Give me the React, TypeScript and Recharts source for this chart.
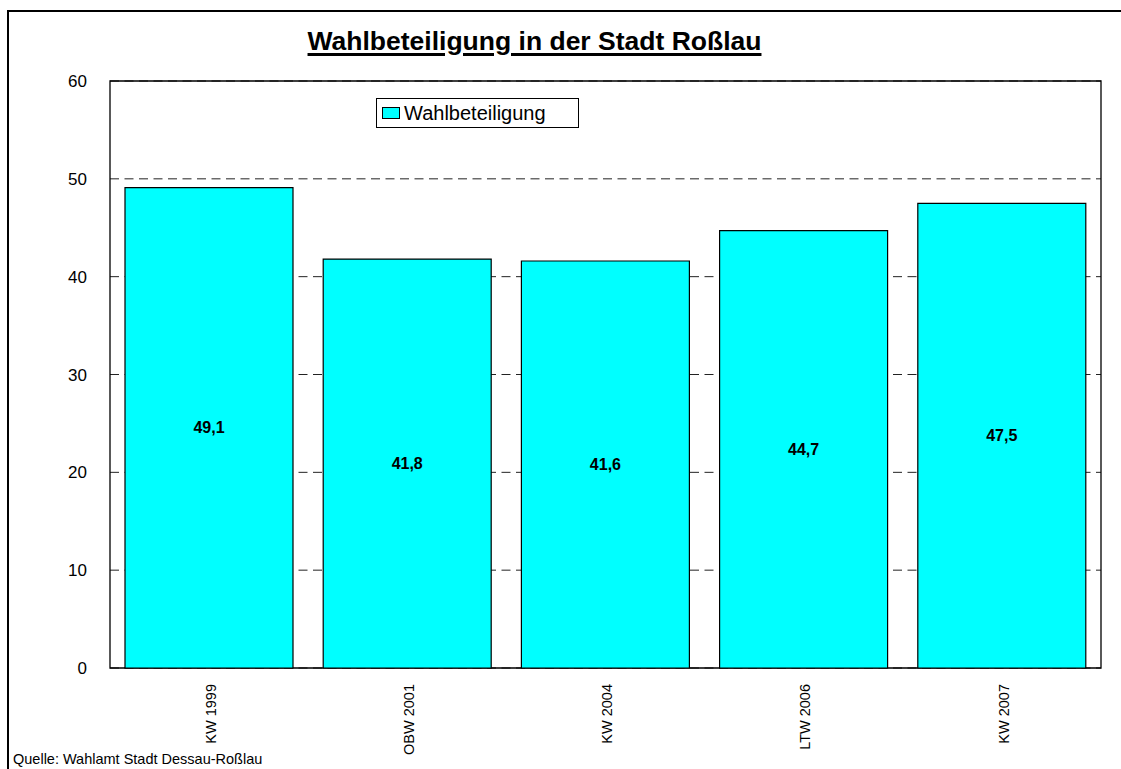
import React from "react";
import {
  BarChart,
  Bar,
  XAxis,
  YAxis,
  CartesianGrid,
  LabelList,
  Legend,
  ReferenceArea,
} from "recharts";

const categories = ["KW 1999", "OBW 2001", "KW 2004", "LTW 2006", "KW 2007"];
const turnout = [49.1, 41.8, 41.6, 44.7, 47.5];
const yTicks = [0, 10, 20, 30, 40, 50, 60];
const seriesName = "Wahlbeteiligung";
const titleText = "Wahlbeteiligung in der Stadt Roßlau";
const sourceText = "Quelle: Wahlamt Stadt Dessau-Roßlau";

const data = categories.map((c, i) => ({ name: c, value: turnout[i] }));

const FONT = "'Liberation Sans', Arial, Helvetica, sans-serif";
const CYAN = "#00FFFF";

const XTick = (props: any) => {
  const { x, y, payload } = props;
  const tx = x + 1.5;
  const ty = y + 16;
  return (
    <text
      x={tx}
      y={ty}
      dy="0.36em"
      transform={`rotate(-90, ${tx}, ${ty})`}
      textAnchor="end"
      fontFamily={FONT}
      fontSize={14.5}
      fill="#000"
    >
      {payload.value}
    </text>
  );
};

const LegendBox = () => (
  <div
    style={{
      position: "relative",
      width: 203,
      height: 30,
      boxSizing: "border-box",
      border: "1.3px solid #000",
      background: "#fff",
      fontFamily: FONT,
    }}
  >
    <div
      style={{
        position: "absolute",
        left: 5,
        top: 8,
        width: 18,
        height: 12,
        boxSizing: "border-box",
        border: "1px solid #000",
        background: CYAN,
      }}
    />
    <div
      style={{
        position: "absolute",
        left: 27,
        top: 4,
        fontSize: 20,
        lineHeight: "20px",
        color: "#000",
        whiteSpace: "nowrap",
      }}
    >
      {seriesName}
    </div>
  </div>
);

export default function App() {
  return (
    <div
      style={{
        position: "fixed",
        left: 0,
        top: 0,
        right: 0,
        bottom: 0,
        overflow: "hidden",
        background: "#fff",
      }}
    >
      <div
        style={{
          position: "absolute",
          left: 7,
          top: 10,
          right: -40,
          bottom: -40,
          border: "2.5px solid #000",
          boxSizing: "border-box",
        }}
      />
      <div
        style={{
          position: "absolute",
          left: 0,
          top: 0,
        }}
      >
        <BarChart
          width={1121}
          height={769}
          data={data}
          margin={{ top: 81, right: 20, bottom: 0, left: 0 }}
          barCategoryGap={15}
        >
          <CartesianGrid
            horizontal={true}
            vertical={false}
            stroke="#222"
            strokeDasharray="9 5.5"
          />
          <XAxis
            dataKey="name"
            height={101}
            axisLine={false}
            tickLine={false}
            tickSize={0}
            tickMargin={0}
            interval={0}
            tick={<XTick />}
          />
          <YAxis
            width={110}
            domain={[0, 60]}
            ticks={yTicks}
            axisLine={false}
            tickLine={false}
            tickSize={0}
            tickMargin={23}
            tick={{ fontFamily: FONT, fontSize: 17, fill: "#000" }}
          />
          <Legend
            layout="horizontal"
            verticalAlign="middle"
            align="center"
            content={() => <LegendBox />}
            wrapperStyle={{ left: 376, top: 98, width: 203, height: 30 }}
          />
          <Bar
            dataKey="value"
            name={seriesName}
            fill={CYAN}
            stroke="#000"
            strokeWidth={1.2}
            isAnimationActive={false}
          >
            <LabelList
              dataKey="value"
              position="center"
              formatter={(v: any) => String(v).replace(".", ",")}
              style={{
                fontFamily: FONT,
                fontSize: 16,
                fontWeight: "bold",
                fill: "#000",
              }}
            />
          </Bar>
          <ReferenceArea
            y1={0}
            y2={60}
            fill="none"
            fillOpacity={0}
            stroke="#000"
            strokeWidth={1.3}
            ifOverflow="visible"
          />
        </BarChart>
      </div>
      <div
        style={{
          position: "absolute",
          left: 534.5,
          top: 28,
          transform: "translateX(-50%)",
          fontFamily: FONT,
          fontSize: 26.5,
          lineHeight: "26px",
          fontWeight: "bold",
          color: "#000",
          whiteSpace: "nowrap",
          textDecoration: "underline",
          textDecorationThickness: "3px",
          textUnderlineOffset: "3px",
        }}
      >
        {titleText}
      </div>
      <div
        style={{
          position: "absolute",
          left: 13,
          top: 752,
          fontFamily: FONT,
          fontSize: 14.5,
          lineHeight: "14.5px",
          color: "#000",
          whiteSpace: "nowrap",
        }}
      >
        {sourceText}
      </div>
    </div>
  );
}
